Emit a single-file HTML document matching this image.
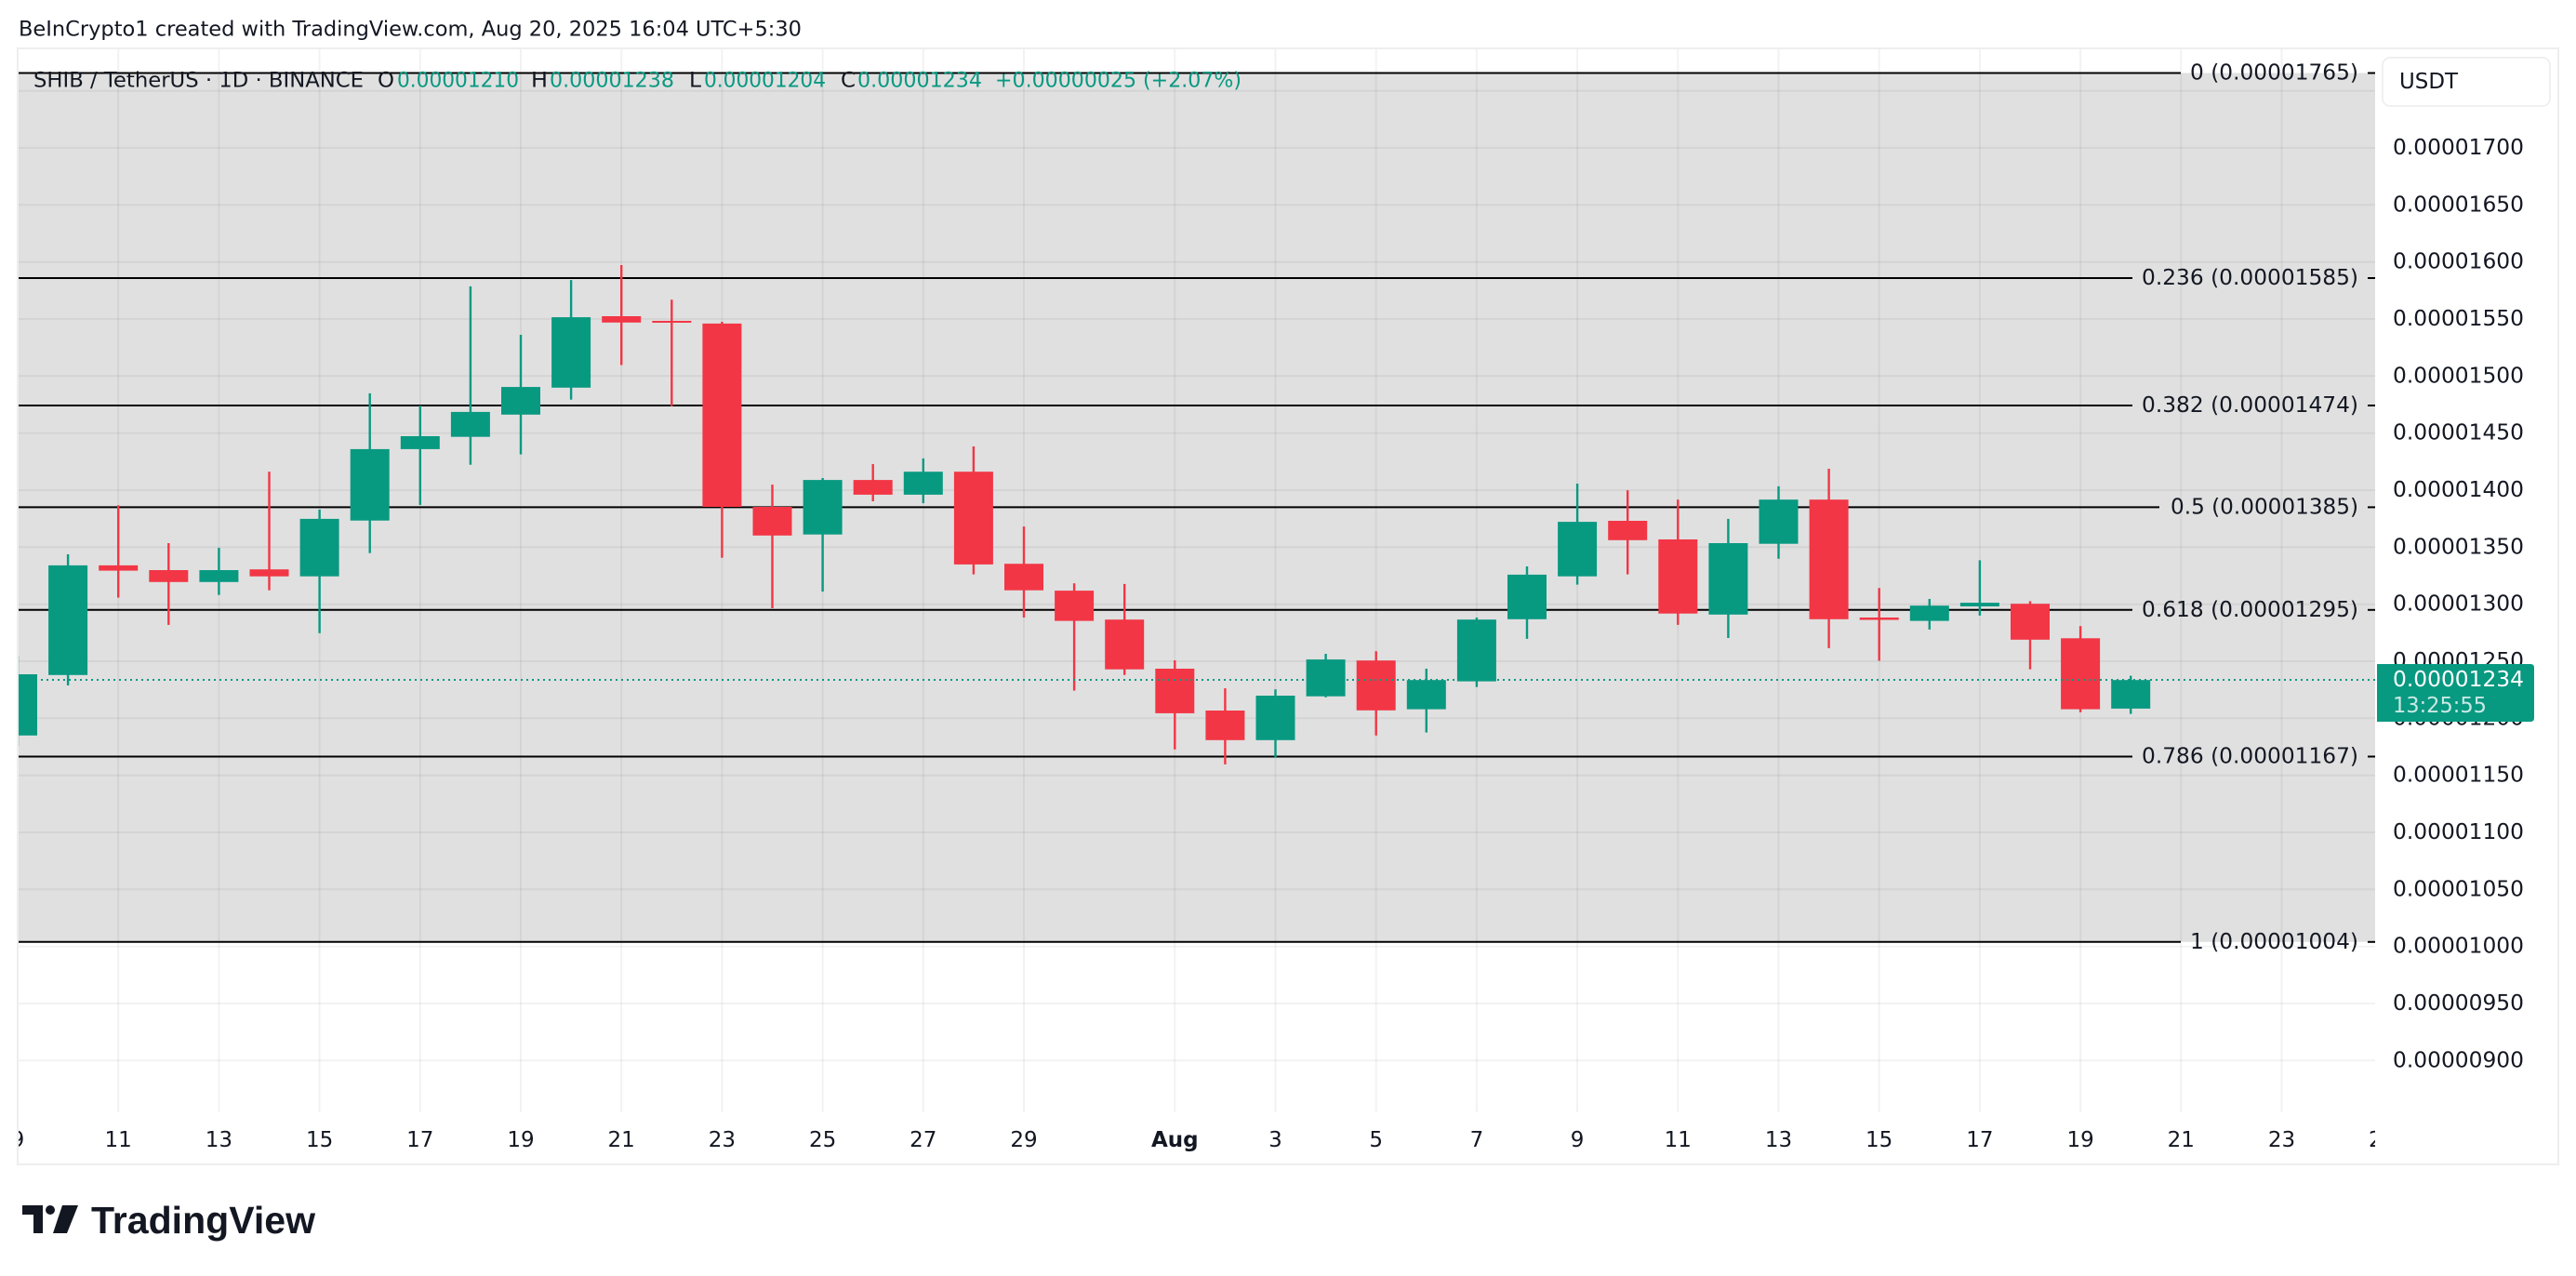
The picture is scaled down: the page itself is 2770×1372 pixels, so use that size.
<!DOCTYPE html>
<html>
<head>
<meta charset="utf-8">
<style>
html,body{margin:0;padding:0;background:#fff;}
svg{display:block;}
text{font-family:"DejaVu Sans","Liberation Sans",sans-serif;fill:#131722;}
</style>
</head>
<body>
<svg width="2770" height="1372" viewBox="0 0 2770 1372" xmlns="http://www.w3.org/2000/svg">
<defs>
<clipPath id="plot"><rect x="20" y="53" width="2534" height="1143"/></clipPath>
<clipPath id="taxis"><rect x="20" y="1196" width="2534" height="56"/></clipPath>
</defs>
<rect x="0" y="0" width="2770" height="1372" fill="#fff"/>

<!-- header -->
<text x="20" y="32" dominant-baseline="central" font-size="22" textLength="842" lengthAdjust="spacingAndGlyphs">BeInCrypto1 created with TradingView.com, Aug 20, 2025 16:04 UTC+5:30</text>

<!-- outer border -->
<rect x="19" y="52" width="2732" height="1200" fill="none" stroke="#eeeeee" stroke-width="2"/>

<g clip-path="url(#plot)">
<!-- fib fill -->
<rect x="20" y="78.5" width="2534" height="934.3" fill="#e0e0e0"/>
<!-- grid -->
<g stroke="rgba(0,0,0,0.05)" stroke-width="2">
<line x1="20" x2="2554" y1="97.7" y2="97.7"/>
<line x1="20" x2="2554" y1="159" y2="159"/>
<line x1="20" x2="2554" y1="220.3" y2="220.3"/>
<line x1="20" x2="2554" y1="281.7" y2="281.7"/>
<line x1="20" x2="2554" y1="343" y2="343"/>
<line x1="20" x2="2554" y1="404.3" y2="404.3"/>
<line x1="20" x2="2554" y1="465.7" y2="465.7"/>
<line x1="20" x2="2554" y1="527" y2="527"/>
<line x1="20" x2="2554" y1="588.3" y2="588.3"/>
<line x1="20" x2="2554" y1="649.7" y2="649.7"/>
<line x1="20" x2="2554" y1="711" y2="711"/>
<line x1="20" x2="2554" y1="772.3" y2="772.3"/>
<line x1="20" x2="2554" y1="833.7" y2="833.7"/>
<line x1="20" x2="2554" y1="895" y2="895"/>
<line x1="20" x2="2554" y1="956.3" y2="956.3"/>
<line x1="20" x2="2554" y1="1017.7" y2="1017.7"/>
<line x1="20" x2="2554" y1="1079" y2="1079"/>
<line x1="20" x2="2554" y1="1140.3" y2="1140.3"/>
<line y1="53" y2="1196" x1="127.2" x2="127.2"/>
<line y1="53" y2="1196" x1="235.4" x2="235.4"/>
<line y1="53" y2="1196" x1="343.6" x2="343.6"/>
<line y1="53" y2="1196" x1="451.8" x2="451.8"/>
<line y1="53" y2="1196" x1="560" x2="560"/>
<line y1="53" y2="1196" x1="668.2" x2="668.2"/>
<line y1="53" y2="1196" x1="776.4" x2="776.4"/>
<line y1="53" y2="1196" x1="884.6" x2="884.6"/>
<line y1="53" y2="1196" x1="992.8" x2="992.8"/>
<line y1="53" y2="1196" x1="1101" x2="1101"/>
<line y1="53" y2="1196" x1="1263.3" x2="1263.3"/>
<line y1="53" y2="1196" x1="1371.5" x2="1371.5"/>
<line y1="53" y2="1196" x1="1479.7" x2="1479.7"/>
<line y1="53" y2="1196" x1="1587.9" x2="1587.9"/>
<line y1="53" y2="1196" x1="1696.1" x2="1696.1"/>
<line y1="53" y2="1196" x1="1804.3" x2="1804.3"/>
<line y1="53" y2="1196" x1="1912.5" x2="1912.5"/>
<line y1="53" y2="1196" x1="2020.7" x2="2020.7"/>
<line y1="53" y2="1196" x1="2128.9" x2="2128.9"/>
<line y1="53" y2="1196" x1="2237.1" x2="2237.1"/>
<line y1="53" y2="1196" x1="2345.3" x2="2345.3"/>
<line y1="53" y2="1196" x1="2453.5" x2="2453.5"/>
</g>

<!-- fib lines -->
<g stroke="#000" stroke-width="2">
<line x1="20" x2="2345" y1="78.5" y2="78.5"/>
<line x1="20" x2="2293" y1="299" y2="299"/>
<line x1="20" x2="2293" y1="436" y2="436"/>
<line x1="20" x2="2322" y1="545.4" y2="545.4"/>
<line x1="20" x2="2293" y1="655.8" y2="655.8"/>
<line x1="20" x2="2293" y1="813.5" y2="813.5"/>
<line x1="20" x2="2345" y1="1012.8" y2="1012.8"/>
<line x1="2546" x2="2554" y1="78.5" y2="78.5"/>
<line x1="2546" x2="2554" y1="299" y2="299"/>
<line x1="2546" x2="2554" y1="436" y2="436"/>
<line x1="2546" x2="2554" y1="545.4" y2="545.4"/>
<line x1="2546" x2="2554" y1="655.8" y2="655.8"/>
<line x1="2546" x2="2554" y1="813.5" y2="813.5"/>
<line x1="2546" x2="2554" y1="1012.8" y2="1012.8"/>
</g>

<!-- green candles -->
<g fill="#089981">
<rect x="17.8" y="705" width="2.4" height="97"/><rect x="-2" y="725" width="42" height="65.8"/>
<rect x="71.9" y="596" width="2.4" height="141"/><rect x="52.1" y="607.9" width="42" height="117.9"/>
<rect x="234.2" y="589" width="2.4" height="50.7"/><rect x="214.4" y="613" width="42" height="12.8"/>
<rect x="342.4" y="547.9" width="2.4" height="132.9"/><rect x="322.6" y="557.9" width="42" height="61.8"/>
<rect x="396.5" y="422.9" width="2.4" height="171.8"/><rect x="376.7" y="482.9" width="42" height="76.8"/>
<rect x="450.6" y="436.1" width="2.4" height="106.8"/><rect x="430.8" y="469" width="42" height="13.9"/>
<rect x="504.7" y="307.9" width="2.4" height="191.8"/><rect x="484.9" y="442.9" width="42" height="26.8"/>
<rect x="558.8" y="360" width="2.4" height="128.6"/><rect x="539" y="416.1" width="42" height="29.7"/>
<rect x="612.9" y="301.1" width="2.4" height="128.6"/><rect x="593.1" y="341.1" width="42" height="75.7"/>
<rect x="883.4" y="514" width="2.4" height="122.1"/><rect x="863.6" y="516.1" width="42" height="58.6"/>
<rect x="991.6" y="492.9" width="2.4" height="48.2"/><rect x="971.8" y="507.2" width="42" height="24.7"/>
<rect x="1370.3" y="741.2" width="2.4" height="73.6"/><rect x="1350.5" y="748" width="42" height="47.8"/>
<rect x="1424.4" y="703" width="2.4" height="46.8"/><rect x="1404.6" y="709.1" width="42" height="39.6"/>
<rect x="1532.6" y="719" width="2.4" height="68.6"/><rect x="1512.8" y="731.2" width="42" height="31.4"/>
<rect x="1586.7" y="664" width="2.4" height="74.7"/><rect x="1566.9" y="666.2" width="42" height="66.4"/>
<rect x="1640.8" y="609" width="2.4" height="77.9"/><rect x="1621" y="617.9" width="42" height="47.9"/>
<rect x="1694.9" y="520" width="2.4" height="108.6"/><rect x="1675.1" y="561.1" width="42" height="58.6"/>
<rect x="1857.2" y="557.9" width="2.4" height="128.1"/><rect x="1837.4" y="584" width="42" height="76.8"/>
<rect x="1911.3" y="522.9" width="2.4" height="77.9"/><rect x="1891.5" y="537.2" width="42" height="47.5"/>
<rect x="2073.6" y="644" width="2.4" height="32.9"/><rect x="2053.8" y="651.2" width="42" height="16.4"/>
<rect x="2127.7" y="602.4" width="2.4" height="59.5"/><rect x="2107.9" y="648.1" width="42" height="3.9"/>
<rect x="2290" y="726.6" width="2.4" height="41"/><rect x="2270.2" y="731.2" width="42" height="30.7"/>
</g>
<!-- red candles -->
<g fill="#f23645">
<rect x="126" y="543.3" width="2.4" height="99.3"/><rect x="106.2" y="607.9" width="42" height="5.7"/>
<rect x="180.1" y="584" width="2.4" height="87.9"/><rect x="160.3" y="613" width="42" height="12.8"/>
<rect x="288.3" y="507.2" width="2.4" height="127.5"/><rect x="268.5" y="612.2" width="42" height="7.5"/>
<rect x="667" y="285" width="2.4" height="107.5"/><rect x="647.2" y="340" width="42" height="6.8"/>
<rect x="721.1" y="322.2" width="2.4" height="114.6"/><rect x="701.3" y="345" width="42" height="2"/>
<rect x="775.2" y="346" width="2.4" height="253.7"/><rect x="755.4" y="347.9" width="42" height="197.1"/>
<rect x="829.3" y="521.1" width="2.4" height="132.9"/><rect x="809.5" y="545" width="42" height="30.8"/>
<rect x="937.5" y="499" width="2.4" height="40"/><rect x="917.7" y="516.1" width="42" height="15.8"/>
<rect x="1045.7" y="480" width="2.4" height="137.6"/><rect x="1025.9" y="507.2" width="42" height="99.7"/>
<rect x="1099.8" y="566.1" width="2.4" height="97.9"/><rect x="1080" y="606.2" width="42" height="28.5"/>
<rect x="1153.9" y="627.2" width="2.4" height="115.4"/><rect x="1134.1" y="635.1" width="42" height="32.5"/>
<rect x="1208" y="627.9" width="2.4" height="97.9"/><rect x="1188.2" y="666.2" width="42" height="53.5"/>
<rect x="1262.1" y="710" width="2.4" height="95.8"/><rect x="1242.3" y="719" width="42" height="47.9"/>
<rect x="1316.2" y="740.1" width="2.4" height="81.8"/><rect x="1296.4" y="764" width="42" height="31.8"/>
<rect x="1478.5" y="700.2" width="2.4" height="90.6"/><rect x="1458.7" y="710.2" width="42" height="53.6"/>
<rect x="1749" y="527.2" width="2.4" height="90.4"/><rect x="1729.2" y="560" width="42" height="20.8"/>
<rect x="1803.1" y="537.2" width="2.4" height="134.7"/><rect x="1783.3" y="580" width="42" height="79.7"/>
<rect x="1965.4" y="504" width="2.4" height="192.9"/><rect x="1945.6" y="537.2" width="42" height="128.6"/>
<rect x="2019.5" y="632.2" width="2.4" height="78.3"/><rect x="1999.7" y="664" width="42" height="2.5"/>
<rect x="2181.8" y="646.4" width="2.4" height="73.3"/><rect x="2162" y="649.2" width="42" height="38.6"/>
<rect x="2235.9" y="673.2" width="2.4" height="92.6"/><rect x="2216.1" y="686.3" width="42" height="76.3"/>
</g>

<!-- current price dotted line -->
<line x1="20" x2="2554" y1="731" y2="731" stroke="#089981" stroke-width="2" stroke-dasharray="2,4"/>
</g>

<!-- legend -->
<g font-size="22">
<text x="36" y="87" dominant-baseline="central" textLength="355" lengthAdjust="spacingAndGlyphs">SHIB / TetherUS · 1D · BINANCE</text>
<text x="406" y="87" dominant-baseline="central" textLength="18" lengthAdjust="spacingAndGlyphs">O</text>
<text x="427" y="87" dominant-baseline="central" textLength="131" lengthAdjust="spacingAndGlyphs" style="fill:#089981">0.00001210</text>
<text x="571" y="87" dominant-baseline="central" textLength="18" lengthAdjust="spacingAndGlyphs">H</text>
<text x="591" y="87" dominant-baseline="central" textLength="134" lengthAdjust="spacingAndGlyphs" style="fill:#089981">0.00001238</text>
<text x="741" y="87" dominant-baseline="central" textLength="13" lengthAdjust="spacingAndGlyphs">L</text>
<text x="757" y="87" dominant-baseline="central" textLength="131" lengthAdjust="spacingAndGlyphs" style="fill:#089981">0.00001204</text>
<text x="904" y="87" dominant-baseline="central" textLength="16" lengthAdjust="spacingAndGlyphs">C</text>
<text x="922" y="87" dominant-baseline="central" textLength="134" lengthAdjust="spacingAndGlyphs" style="fill:#089981">0.00001234</text>
<text x="1070" y="87" dominant-baseline="central" textLength="265" lengthAdjust="spacingAndGlyphs" style="fill:#089981">+0.00000025 (+2.07%)</text>
</g>

<!-- fib labels -->
<g font-size="23" text-anchor="end">
<text x="2536" y="78.5" dominant-baseline="central" textLength="181" lengthAdjust="spacingAndGlyphs">0 (0.00001765)</text>
<text x="2536" y="299" dominant-baseline="central" textLength="233" lengthAdjust="spacingAndGlyphs">0.236 (0.00001585)</text>
<text x="2536" y="436" dominant-baseline="central" textLength="233" lengthAdjust="spacingAndGlyphs">0.382 (0.00001474)</text>
<text x="2536" y="545.4" dominant-baseline="central" textLength="202" lengthAdjust="spacingAndGlyphs">0.5 (0.00001385)</text>
<text x="2536" y="655.8" dominant-baseline="central" textLength="233" lengthAdjust="spacingAndGlyphs">0.618 (0.00001295)</text>
<text x="2536" y="813.5" dominant-baseline="central" textLength="233" lengthAdjust="spacingAndGlyphs">0.786 (0.00001167)</text>
<text x="2536" y="1012.8" dominant-baseline="central" textLength="181" lengthAdjust="spacingAndGlyphs">1 (0.00001004)</text>
</g>

<!-- price axis -->
<g font-size="23">
<text x="2573" y="159" dominant-baseline="central" textLength="141" lengthAdjust="spacingAndGlyphs">0.00001700</text>
<text x="2573" y="220.3" dominant-baseline="central" textLength="141" lengthAdjust="spacingAndGlyphs">0.00001650</text>
<text x="2573" y="281.7" dominant-baseline="central" textLength="141" lengthAdjust="spacingAndGlyphs">0.00001600</text>
<text x="2573" y="343" dominant-baseline="central" textLength="141" lengthAdjust="spacingAndGlyphs">0.00001550</text>
<text x="2573" y="404.3" dominant-baseline="central" textLength="141" lengthAdjust="spacingAndGlyphs">0.00001500</text>
<text x="2573" y="465.7" dominant-baseline="central" textLength="141" lengthAdjust="spacingAndGlyphs">0.00001450</text>
<text x="2573" y="527" dominant-baseline="central" textLength="141" lengthAdjust="spacingAndGlyphs">0.00001400</text>
<text x="2573" y="588.3" dominant-baseline="central" textLength="141" lengthAdjust="spacingAndGlyphs">0.00001350</text>
<text x="2573" y="649.7" dominant-baseline="central" textLength="141" lengthAdjust="spacingAndGlyphs">0.00001300</text>
<text x="2573" y="711" dominant-baseline="central" textLength="141" lengthAdjust="spacingAndGlyphs">0.00001250</text>
<text x="2573" y="772.3" dominant-baseline="central" textLength="141" lengthAdjust="spacingAndGlyphs">0.00001200</text>
<text x="2573" y="833.7" dominant-baseline="central" textLength="141" lengthAdjust="spacingAndGlyphs">0.00001150</text>
<text x="2573" y="895" dominant-baseline="central" textLength="141" lengthAdjust="spacingAndGlyphs">0.00001100</text>
<text x="2573" y="956.3" dominant-baseline="central" textLength="141" lengthAdjust="spacingAndGlyphs">0.00001050</text>
<text x="2573" y="1017.7" dominant-baseline="central" textLength="141" lengthAdjust="spacingAndGlyphs">0.00001000</text>
<text x="2573" y="1079" dominant-baseline="central" textLength="141" lengthAdjust="spacingAndGlyphs">0.00000950</text>
<text x="2573" y="1140.3" dominant-baseline="central" textLength="141" lengthAdjust="spacingAndGlyphs">0.00000900</text>
</g>

<!-- USDT box -->
<rect x="2562" y="62" width="180" height="52" rx="8" ry="8" fill="#fff" stroke="#ececec" stroke-width="1.5"/>
<text x="2580" y="88" dominant-baseline="central" font-size="23" textLength="63" lengthAdjust="spacingAndGlyphs">USDT</text>

<!-- current price label -->
<path d="M2556 714 H2721 Q2725 714 2725 718 V772 Q2725 776 2721 776 H2556 Z" fill="#089981"/>
<text x="2573" y="731" dominant-baseline="central" font-size="23" textLength="141" lengthAdjust="spacingAndGlyphs" style="fill:#ffffff">0.00001234</text>
<text x="2573" y="759" dominant-baseline="central" font-size="23" textLength="101" lengthAdjust="spacingAndGlyphs" style="fill:rgba(255,255,255,0.78)">13:25:55</text>

<!-- time axis -->
<g clip-path="url(#taxis)" font-size="23" text-anchor="middle">
<text x="19" y="1226" dominant-baseline="central">9</text>
<text x="127.2" y="1226" dominant-baseline="central">11</text>
<text x="235.4" y="1226" dominant-baseline="central">13</text>
<text x="343.6" y="1226" dominant-baseline="central">15</text>
<text x="451.8" y="1226" dominant-baseline="central">17</text>
<text x="560" y="1226" dominant-baseline="central">19</text>
<text x="668.2" y="1226" dominant-baseline="central">21</text>
<text x="776.4" y="1226" dominant-baseline="central">23</text>
<text x="884.6" y="1226" dominant-baseline="central">25</text>
<text x="992.8" y="1226" dominant-baseline="central">27</text>
<text x="1101" y="1226" dominant-baseline="central">29</text>
<text x="1263.3" y="1226" dominant-baseline="central" font-weight="bold">Aug</text>
<text x="1371.5" y="1226" dominant-baseline="central">3</text>
<text x="1479.7" y="1226" dominant-baseline="central">5</text>
<text x="1587.9" y="1226" dominant-baseline="central">7</text>
<text x="1696.1" y="1226" dominant-baseline="central">9</text>
<text x="1804.3" y="1226" dominant-baseline="central">11</text>
<text x="1912.5" y="1226" dominant-baseline="central">13</text>
<text x="2020.7" y="1226" dominant-baseline="central">15</text>
<text x="2128.9" y="1226" dominant-baseline="central">17</text>
<text x="2237.1" y="1226" dominant-baseline="central">19</text>
<text x="2345.3" y="1226" dominant-baseline="central">21</text>
<text x="2453.5" y="1226" dominant-baseline="central">23</text>
<text x="2561.7" y="1226" dominant-baseline="central">25</text>
</g>

<!-- TradingView logo -->
<g fill="#131722">
<path d="M24 1296 H46 V1326 H36 V1306 H24 Z"/>
<circle cx="54" cy="1301" r="5"/>
<path d="M67 1296 H84 L72 1326 H57 Z"/>
</g>
<text x="98" y="1326" font-size="41" font-weight="bold" textLength="241" lengthAdjust="spacingAndGlyphs" style="font-family:'Liberation Sans',sans-serif;fill:#131722">TradingView</text>
</svg>
</body>
</html>
